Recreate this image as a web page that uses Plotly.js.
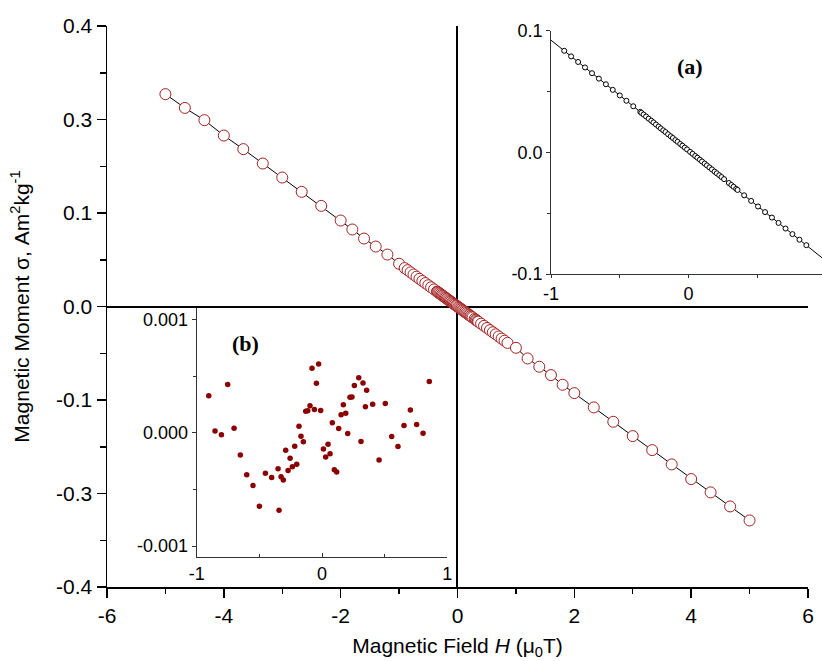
<!DOCTYPE html>
<html><head><meta charset="utf-8">
<script src="https://cdn.plot.ly/plotly-3.0.1.min.js"></script>
<style>html,body{margin:0;padding:0;background:#fff}#chart{width:822px;height:661px}</style>
</head><body><div id="chart"></div><script>
// ---- Main curve: magnetic field (T) and moment (Am^2/kg) ----
const fieldOuterNeg = [-5, -4.667, -4.333, -4, -3.667, -3.333, -3, -2.667, -2.333, -2, -1.8, -1.6, -1.4, -1.2, -1.0];
const momentOuterNeg = [0.3028, 0.2832, 0.2657, 0.2438, 0.2244, 0.2039, 0.1839, 0.1635, 0.1435, 0.1226, 0.1098, 0.0969, 0.0855, 0.0741, 0.0609];
const fieldInner = [-0.904, -0.854, -0.803, -0.753, -0.702, -0.652, -0.601, -0.551, -0.500, -0.452, -0.402, -0.351, -0.343, -0.327, -0.309, -0.290, -0.271, -0.255, -0.237, -0.218, -0.202, -0.184, -0.168, -0.149, -0.130, -0.114, -0.096, -0.080, -0.061, -0.045, -0.027, -0.011, 0.011, 0.029, 0.048, 0.064, 0.082, 0.098, 0.117, 0.133, 0.152, 0.170, 0.189, 0.205, 0.223, 0.239, 0.258, 0.293, 0.311, 0.327, 0.346, 0.356, 0.404, 0.455, 0.505, 0.556, 0.606, 0.654, 0.705, 0.755, 0.806, 0.856];
const momentInner = [0.0548, 0.0518, 0.0487, 0.0456, 0.0425, 0.0395, 0.0364, 0.0334, 0.0303, 0.0274, 0.0244, 0.0213, 0.0208, 0.0198, 0.0187, 0.0176, 0.0164, 0.0155, 0.0144, 0.0132, 0.0122, 0.0112, 0.0102, 0.0090, 0.0079, 0.0069, 0.0058, 0.0048, 0.0037, 0.0027, 0.0016, 0.0007, -0.0007, -0.0018, -0.0029, -0.0039, -0.0050, -0.0059, -0.0071, -0.0081, -0.0092, -0.0103, -0.0115, -0.0124, -0.0135, -0.0145, -0.0156, -0.0178, -0.0188, -0.0198, -0.0210, -0.0216, -0.0245, -0.0276, -0.0306, -0.0337, -0.0367, -0.0396, -0.0427, -0.0458, -0.0488, -0.0519];
const fieldOuterPos = [1.0, 1.2, 1.4, 1.6, 1.8, 2.0, 2.333, 2.667, 3, 3.333, 3.667, 4, 4.333, 4.667, 5];
const momentOuterPos = [-0.0589, -0.0741, -0.0859, -0.0978, -0.1116, -0.1235, -0.1439, -0.1644, -0.1848, -0.2048, -0.2252, -0.2461, -0.2651, -0.2851, -0.3051];

// main axis ticks
const mainXTickVals = [-6, -4, -2, 0, 2, 4, 6];
const mainXTickText = ['-6', '-4', '-2', '0', '2', '4', '6'];
const mainYTickVals = [0.4, 0.26667, 0.13333, 0, -0.13333, -0.26667, -0.4];
const mainYTickText = ['0.4', '0.3', '0.1', '0.0', '-0.1', '-0.3', '-0.4'];

// ---- Inset (a) ----
const insetAField = fieldInner;
const insetAMoment = [0.0835, 0.0789, 0.0743, 0.0698, 0.0651, 0.0606, 0.0560, 0.0514, 0.0468, 0.0424, 0.0379, 0.0333, 0.0325, 0.0311, 0.0295, 0.0277, 0.0260, 0.0246, 0.0229, 0.0212, 0.0197, 0.0181, 0.0167, 0.0149, 0.0132, 0.0118, 0.0101, 0.0087, 0.0069, 0.0055, 0.0039, 0.0024, 0.0004, -0.0012, -0.0030, -0.0044, -0.0060, -0.0075, -0.0092, -0.0107, -0.0124, -0.0140, -0.0158, -0.0172, -0.0188, -0.0203, -0.0220, -0.0252, -0.0268, -0.0283, -0.0300, -0.0309, -0.0353, -0.0399, -0.0445, -0.0491, -0.0536, -0.0580, -0.0626, -0.0672, -0.0718, -0.0763];
const insetAFitField = [-1, 1];
const insetAFitMoment = [0.0922, -0.0894];
const insetAXTickVals = [-1, 0];
const insetAXTickText = ['-1', '0'];
const insetAYTickVals = [-0.1, 0, 0.1];
const insetAYTickText = ['-0.1', '0.0', '0.1'];

// ---- Inset (b): residuals ----
const insetBField = fieldInner;
const insetBResidual = [3.28e-4, 0.15e-4, -0.18e-4, 4.26e-4, 0.41e-4, -1.95e-4, -3.70e-4, -4.65e-4, -6.48e-4, -3.58e-4, -3.94e-4, -3.17e-4, -6.83e-4, -3.88e-4, -4.17e-4, -1.54e-4, -3.34e-4, -2.25e-4, -2.99e-4, -1.18e-4, -2.78e-4, 0.59e-4, -0.30e-4, -0.80e-4, 1.90e-4, 1.95e-4, 2.40e-4, 5.70e-4, 2.07e-4, 4.38e-4, 6.07e-4, 1.98e-4, -1.42e-4, -2.13e-4, -1.00e-4, -1.84e-4, 0.89e-4, -3.26e-4, -3.47e-4, 0.39e-4, 1.60e-4, 2.49e-4, 1.72e-4, -0.06e-4, 3.14e-4, 3.17e-4, 4.18e-4, 4.86e-4, -0.77e-4, 4.41e-4, 2.31e-4, 3.76e-4, 2.52e-4, -2.40e-4, 2.58e-4, -0.33e-4, -1.21e-4, 0.65e-4, 2.01e-4, 0.74e-4, -0.03e-4, 4.53e-4];
const insetBXTickVals = [-1, 0, 1];
const insetBXTickText = ['-1', '0', '1'];
const insetBYTickVals = [-0.001, 0, 0.001];
const insetBYTickText = ['-0.001', '0.000', '0.001'];

const FONT = 'Liberation Sans, Arial, Helvetica, sans-serif';
const RED = '#A31F1F';
const DARKRED = '#8B0000';

const traces = [
  {
    x: fieldOuterNeg.concat(fieldInner, fieldOuterPos),
    y: momentOuterNeg.concat(momentInner, momentOuterPos),
    xaxis: 'x', yaxis: 'y',
    mode: 'lines+markers',
    line: {color: '#000', width: 1},
    marker: {symbol: 'circle', size: 11, color: '#fff', line: {color: RED, width: 1}}
  },
  {
    x: insetAFitField, y: insetAFitMoment, xaxis: 'x2', yaxis: 'y2',
    mode: 'lines', line: {color: '#000', width: 1}
  },
  {
    x: insetAField, y: insetAMoment, xaxis: 'x2', yaxis: 'y2',
    mode: 'markers',
    marker: {symbol: 'circle', size: 5, color: '#fff', line: {color: '#000', width: 1}}
  },
  {
    x: insetBField, y: insetBResidual, xaxis: 'x3', yaxis: 'y3',
    mode: 'markers',
    marker: {symbol: 'circle', size: 5.5, color: DARKRED}
  }
];

const insetTick = {ticklen: 4, tickwidth: 1, tickcolor: '#333'};

const layout = {
  width: 822, height: 661,
  margin: {l: 107, r: 0, t: 26, b: 74},
  paper_bgcolor: '#fff', plot_bgcolor: 'rgba(0,0,0,0)',
  showlegend: false,
  font: {family: FONT, color: '#000'},
  xaxis: {
    domain: [0, 0.9804], range: [-6, 6], anchor: 'y',
    tickmode: 'array', tickvals: mainXTickVals, ticktext: mainXTickText,
    ticks: 'outside', ticklen: 9, tickwidth: 1.5, tickcolor: '#000',
    minor: {tickmode: 'linear', tick0: 0, dtick: 1, ticks: 'outside', ticklen: 5, tickwidth: 1.5, tickcolor: '#000'},
    showline: true, linewidth: 1.5, linecolor: '#000',
    zeroline: true, zerolinewidth: 2, zerolinecolor: '#000',
    showgrid: false, automargin: false,
    tickfont: {size: 21, family: FONT},
    title: {text: 'Magnetic Field <i>H</i> (μ<sub>0</sub>T)', font: {size: 21, family: FONT}, standoff: 12}
  },
  yaxis: {
    domain: [0, 1], range: [-0.4, 0.4], anchor: 'x',
    tickmode: 'array', tickvals: mainYTickVals, ticktext: mainYTickText,
    ticks: 'outside', ticklen: 9, tickwidth: 1.5, tickcolor: '#000',
    minor: {tickmode: 'linear', tick0: 0, dtick: 0.4 / 6, ticks: 'outside', ticklen: 6, tickwidth: 1.5, tickcolor: '#000'},
    showline: true, linewidth: 1.5, linecolor: '#000',
    zeroline: true, zerolinewidth: 2, zerolinecolor: '#000',
    showgrid: false, automargin: false,
    tickfont: {size: 21, family: FONT},
    title: {text: 'Magnetic Moment σ, Am<sup>2</sup>kg<sup>-1</sup>', font: {size: 21, family: FONT}, standoff: 21}
  },
  xaxis2: {
    domain: [0.621, 1], range: [-1, 0.97], anchor: 'y2',
    tickmode: 'array', tickvals: insetAXTickVals, ticktext: insetAXTickText,
    ticks: 'outside', ticklen: 3, tickwidth: 1, tickcolor: '#333',
    minor: {tickmode: 'linear', tick0: 0, dtick: 0.5, ticks: 'outside', ticklen: 3, tickwidth: 1, tickcolor: '#333'},
    showline: true, linewidth: 1, linecolor: '#333',
    zeroline: false, showgrid: false,
    tickfont: {size: 18, family: FONT}
  },
  yaxis2: {
    domain: [0.5579, 0.9916], range: [-0.1, 0.1], anchor: 'x2',
    tickmode: 'array', tickvals: insetAYTickVals, ticktext: insetAYTickText,
    ticks: 'outside', ticklen: 4, tickwidth: 1, tickcolor: '#333',
    minor: {tickmode: 'linear', tick0: 0, dtick: 0.05, ticks: 'outside', ticklen: 3, tickwidth: 1, tickcolor: '#333'},
    showline: true, linewidth: 1, linecolor: '#333',
    zeroline: false, showgrid: false,
    tickfont: {size: 18, family: FONT}
  },
  xaxis3: {
    domain: [0.1255, 0.476], range: [-1, 1], anchor: 'y3',
    tickmode: 'array', tickvals: insetBXTickVals, ticktext: insetBXTickText,
    ticks: 'inside', ticklen: 4, tickwidth: 1, tickcolor: '#333',
    minor: {tickmode: 'linear', tick0: 0, dtick: 0.5, ticks: 'inside', ticklen: 3, tickwidth: 1, tickcolor: '#333'},
    showline: true, linewidth: 1, linecolor: '#333',
    zeroline: false, showgrid: false,
    tickfont: {size: 18, family: FONT}
  },
  yaxis3: {
    domain: [0.0529, 0.4968], range: [-0.0011, 0.0011], anchor: 'x3',
    tickmode: 'array', tickvals: insetBYTickVals, ticktext: insetBYTickText,
    ticks: 'outside', ticklen: 4, tickwidth: 1, tickcolor: '#333',
    minor: {tickmode: 'linear', tick0: 0, dtick: 0.0005, ticks: 'outside', ticklen: 3, tickwidth: 1, tickcolor: '#333'},
    showline: true, linewidth: 1, linecolor: '#333',
    zeroline: false, showgrid: false,
    tickfont: {size: 18, family: FONT}
  },
  annotations: [
    {text: '<b>(a)</b>', xref: 'x2', yref: 'y2', x: 0.01, y: 0.0703, showarrow: false,
     font: {family: 'Liberation Serif, Times New Roman, serif', size: 22, color: '#000'}},
    {text: '<b>(b)</b>', xref: 'x3', yref: 'y3', x: -0.61, y: 0.00079, showarrow: false,
     font: {family: 'Liberation Serif, Times New Roman, serif', size: 22, color: '#000'}}
  ]
};

Plotly.newPlot('chart', traces, layout, {staticPlot: true, displayModeBar: false});
</script></body></html>
